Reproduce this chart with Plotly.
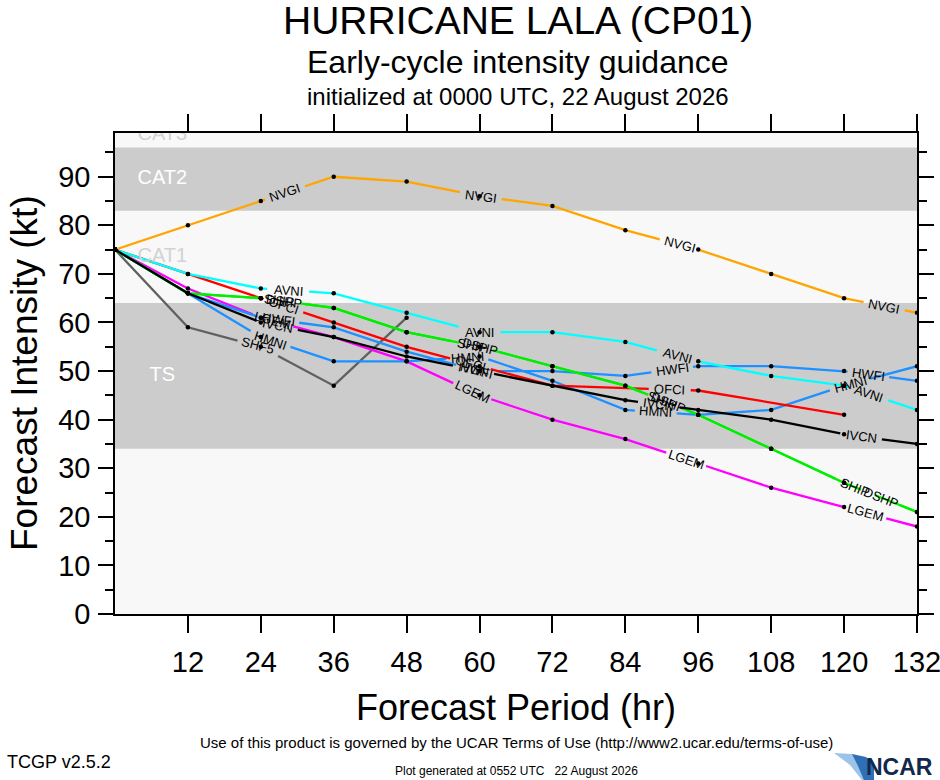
import math
import numpy as np
import plotly.graph_objects as go

# forecast hours and model intensities (kt)
hours = [0, 12, 24, 36, 48, 60, 72, 84, 96, 108, 120, 132]

nvgi = [75, 80, 85, 90, 89, 86, 84, 79, 75, 70, 65, 62]
avni = [75, 70, 67, 66, 62, 58, 58, 56, 52, 49, 47, 42]
ship = [75, 66, 65, 63, 58, 55, 51, 47, 41, 34, 27, 21]
dshp = [75, 66, 65, 63, 58, 55, 51, 47, 41, 34, 27, 21]
ofci = [75, 70, 65, 60, 55, 51, 47, None, 46, None, 41, None]
hwfi = [75, 66, 61, 59, 54, 50, 50, 49, 51, 51, 50, 48]
hmni = [75, 66, 57, 52, 52, 53, 48, 42, 41, 42, 47, 51]
ivcn = [75, 66, 60, 57, 53, 50, 47, 44, 42, 40, 37, 35]
lgem = [75, 67, 61, 57, 52, 45, 40, 36, 31, 26, 22, 18]
shf5 = [75, 59, 55, 47, 61, None, None, None, None, None, None, None]

# intensity bands (kt)
band_names = ["TS", "CAT1", "CAT2", "CAT3"]
band_lo = [34, 64, 83, 96]
band_hi = [64, 83, 96, 113]
band_label_y = [49, 73.5, 89.5, 98.6]

FONT = "Liberation Sans, Arial, Helvetica, sans-serif"

# plot area in pixels
W, H = 940, 780
PL, PR, PT, PB = 115, 917, 133, 614
XMAX, YMAX = 132, 99
sx = (PR - PL) / XMAX
sy = (PB - PT) / YMAX


def paper(px, py):
    return (px - PL) / (PR - PL), (PB - py) / (PB - PT)


# name, values, color, where the labels sit along the line (hr)
models = [
    ("NVGI", nvgi, "#ffa500", [28, 60.2, 93, 126.6]),
    ("SHF5", shf5, "#606060", [23.5]),
    ("LGEM", lgem, "#ff00ff", [26, 58.8, 94, 123.6]),
    ("HMNI", hmni, "#1e90ff", [25.6, 58, 89, 121]),
    ("HWFI", hwfi, "#1e90ff", [26.9, 59.5, 91.7, 124]),
    ("OFCI", ofci, "#ff0000", [27.7, 58.5, 91.3]),
    ("SHIP", ship, "#00ee00", [27, 58.8, 90, 121.8]),
    ("DSHP", dshp, "#00ee00", [27.8, 60, 91, 126]),
    ("AVNI", avni, "#00ffff", [28.5, 60, 92.5, 124]),
    ("IVCN", ivcn, "#000000", [26.7, 59, 89.5, 122.8]),
]

fig = go.Figure()

annotations = []
dot_x, dot_y = [], []
GAP = 21  # half length of the label gap in px

for name, vals, color, lab_hours in models:
    hs = [h for h, v in zip(hours, vals) if v is not None]
    vs = [v for v in vals if v is not None]
    gaps = []
    for hl in lab_hours:
        i = max(j for j in range(len(hs) - 1) if hs[j] <= hl)
        m = (vs[i + 1] - vs[i]) / (hs[i + 1] - hs[i])
        ang = math.degrees(math.atan2(-m * sy, sx))
        dh = GAP * math.cos(math.radians(ang)) / sx
        gaps.append((max(hl - dh, hs[0]), min(hl + dh, hs[-1])))
        annotations.append(dict(
            x=hl, y=float(np.interp(hl, hs, vs)), xref="x", yref="y",
            text=name, showarrow=False, textangle=ang,
            xanchor="center", yanchor="middle",
            font=dict(family=FONT, size=13, color="black")))
    pts = sorted(set(hs) | {a for a, b in gaps} | {b for a, b in gaps})
    lx, ly = [], []
    for p in pts:
        if any(a < p < b for a, b in gaps):
            continue
        lx.append(p)
        ly.append(float(np.interp(p, hs, vs)))
        if any(abs(p - a) < 1e-9 for a, b in gaps):
            lx.append(None)
            ly.append(None)
    fig.add_trace(go.Scatter(x=lx, y=ly, mode="lines",
                             line=dict(color=color, width=2.3),
                             hoverinfo="skip", showlegend=False))
    dot_x += hs
    dot_y += vs

fig.add_trace(go.Scatter(x=dot_x, y=dot_y, mode="markers",
                         marker=dict(color="black", size=4.5),
                         hoverinfo="skip", showlegend=False))

# band labels (clipped by the plot area like the original)
band_colors = ["white", "#d2d2d2", "white", "#d2d2d2"]
fig.add_trace(go.Scatter(x=[7.8] * 4, y=band_label_y, mode="text",
                         text=band_names, cliponaxis=True,
                         textfont=dict(family=FONT, size=20, color=band_colors),
                         hoverinfo="skip", showlegend=False))

shapes = []
for name, lo, hi in zip(band_names, band_lo, band_hi):
    if name in ("TS", "CAT2"):
        shapes.append(dict(type="rect", xref="x", yref="y", x0=0, x1=XMAX,
                           y0=lo, y1=hi, fillcolor="#cccccc",
                           line=dict(width=0), layer="below"))

# NCAR logo swoosh
def ppath(points):
    s = ""
    for cmd, px, py in points:
        x, y = paper(px, py)
        s += f"{cmd}{x:.4f},{y:.4f} "
    return s + "Z"

shapes.append(dict(type="path", xref="paper", yref="paper", layer="above",
                   path=ppath([("M", 834, 753), ("L", 852, 754), ("L", 874, 764),
                               ("L", 874, 780), ("L", 862, 780), ("L", 850, 765)]),
                   fillcolor="#9cc3e8", line=dict(width=0)))
shapes.append(dict(type="path", xref="paper", yref="paper", layer="above",
                   path=ppath([("M", 852, 754), ("L", 866, 757), ("L", 874, 764),
                               ("L", 874, 780), ("L", 864, 780), ("L", 858, 766)]),
                   fillcolor="#2f6fb5", line=dict(width=0)))


def text_ann(px, py, text, size, **kw):
    x, y = paper(px, py)
    d = dict(x=x, y=y, xref="paper", yref="paper", text=text, showarrow=False,
             xanchor="center", yanchor="middle",
             font=dict(family=FONT, size=size, color="black"))
    d.update(kw)
    return d


annotations += [
    text_ann(518, 20, "HURRICANE LALA (CP01)", 39),
    text_ann(518, 62, "Early-cycle intensity guidance", 32),
    text_ann(518, 96, "initialized at 0000 UTC, 22 August 2026", 24),
    text_ann(516, 707, "Forecast Period (hr)", 36),
    text_ann(24, 373, "Forecast Intensity (kt)", 37, textangle=-90),
    text_ann(516, 742, "Use of this product is governed by the UCAR Terms of Use "
             "(http://www2.ucar.edu/terms-of-use)", 15),
    text_ann(5, 762, "TCGP v2.5.2", 18, xanchor="left"),
    text_ann(516, 771, "Plot generated at 0552 UTC   22 August 2026", 12),
    text_ann(935, 767, "<b>NCAR</b>", 23, xanchor="right",
             font=dict(family=FONT, size=23, color="#12284c")),
]

fig.update_layout(
    width=W, height=H, autosize=False,
    margin=dict(l=PL, r=W - PR, t=PT, b=H - PB, pad=0),
    paper_bgcolor="white",
    plot_bgcolor="#f8f8f8",
    showlegend=False,
    shapes=shapes,
    annotations=annotations,
    font=dict(family=FONT, color="black"),
)

fig.update_xaxes(range=[0, XMAX], tickvals=hours[1:], ticks="outside",
                 ticklen=17, tickwidth=1.5, tickcolor="black", automargin=False,
                 ticklabeloverflow="allow",
                 showline=True, linecolor="black", linewidth=1.5, mirror="ticks",
                 showgrid=False, zeroline=False, ticklabelstandoff=4,
                 tickfont=dict(family=FONT, size=29))
fig.update_yaxes(range=[0, YMAX], tick0=0, dtick=10, ticks="outside",
                 ticklen=15, tickwidth=1.5, tickcolor="black", automargin=False,
                 ticklabeloverflow="allow",
                 minor=dict(dtick=5, ticks="outside", ticklen=8, tickwidth=1.5,
                            tickcolor="black", showgrid=False),
                 showline=True, linecolor="black", linewidth=1.5, mirror="ticks",
                 showgrid=False, zeroline=False, ticklabelstandoff=2,
                 tickfont=dict(family=FONT, size=29))

fig.write_html("out.html",
               config={"responsive": False, "displayModeBar": False},
               post_script="document.body.style.margin='0';"
                           "document.body.style.overflow='hidden';")
